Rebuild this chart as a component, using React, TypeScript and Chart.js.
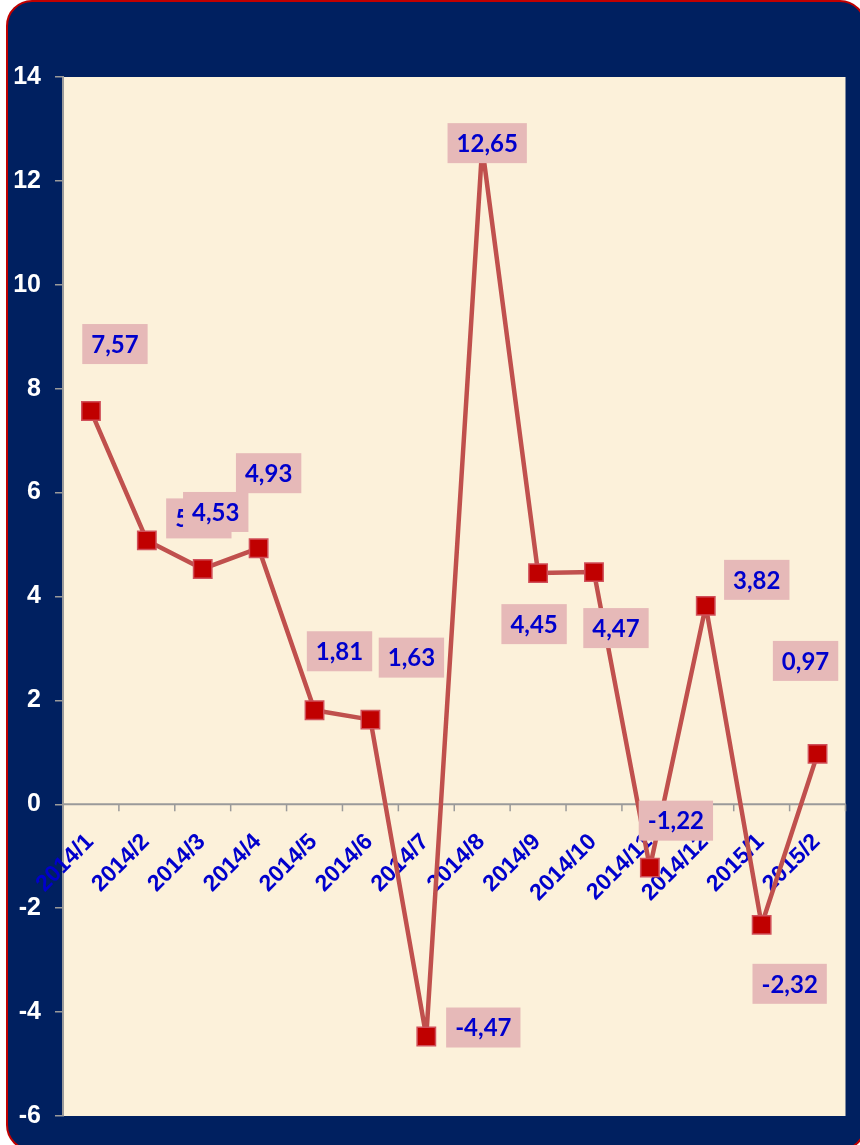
import React, { useEffect, useRef } from "react";
import Chart from "chart.js/auto";

const categories = [
  "2014/1", "2014/2", "2014/3", "2014/4", "2014/5", "2014/6", "2014/7",
  "2014/8", "2014/9", "2014/10", "2014/11", "2014/12", "2015/1", "2015/2",
];
const values = [7.57, 5.08, 4.53, 4.93, 1.81, 1.63, -4.47, 12.65, 4.45, 4.47, -1.22, 3.82, -2.32, 0.97];
const yTicksMin = -6;
const yTicksMax = 14;
const yTicksStep = 2;

// label placement (styling): offset of label box centre from its point, in px
const labelOffsets: [number, number][] = [
  [24, -67], [52, -22], [13, -57], [10, -75], [25, -59], [41, -62], [57, -9],
  [5, -4], [-4, 51], [22, 56], [26, -47], [51, -26], [28, 59], [-12, -93],
];

const NAVY = "#002060";
const CREAM = "#FCF1DA";
const BLUE = "#0000CC";

const fmt = (v: number) => v.toFixed(2).replace(".", ",");

export default function App() {
  const ref = useRef<HTMLCanvasElement | null>(null);
  useEffect(() => {
    document.body.style.margin = "0";
    const canvas = ref.current!;
    const bgPlugin = {
      id: "bg",
      beforeDraw(chart: any) {
        const { ctx, chartArea: a } = chart;
        ctx.save();
        ctx.fillStyle = CREAM;
        ctx.fillRect(a.left, a.top, a.right - a.left, a.bottom - a.top);
        ctx.restore();
      },
      beforeDatasetsDraw(chart: any) {
        const { ctx, chartArea: a } = chart;
        const xs = chart.scales.x;
        const ys = chart.scales.y;
        const zy = ys.getPixelForValue(0);
        ctx.save();
        ctx.strokeStyle = "#9a9a9a";
        ctx.lineWidth = 2;
        ctx.beginPath();
        ctx.moveTo(a.left, zy);
        ctx.lineTo(a.right, zy);
        ctx.stroke();
        ctx.lineWidth = 1.5;
        const w = (a.right - a.left) / categories.length;
        for (let i = 1; i <= categories.length; i++) {
          const x = a.left + w * i;
          ctx.beginPath();
          ctx.moveTo(x, zy);
          ctx.lineTo(x, zy + 7);
          ctx.stroke();
        }
        ctx.fillStyle = BLUE;
        ctx.font = "bold 23px 'Liberation Sans', Arial, sans-serif";
        ctx.textAlign = "right";
        ctx.textBaseline = "middle";
        categories.forEach((c, i) => {
          const x = xs.getPixelForValue(i);
          ctx.save();
          ctx.translate(x - 1, zy + 34);
          ctx.rotate(-Math.PI / 4);
          ctx.fillText(c, 0, 0);
          ctx.restore();
        });
        ctx.restore();
      },
      afterDatasetsDraw(chart: any) {
        const { ctx } = chart;
        const meta = chart.getDatasetMeta(0);
        ctx.save();
        ctx.font = "bold 24px Lato, 'Open Sans', sans-serif";
        ctx.textAlign = "center";
        ctx.textBaseline = "middle";
        values.forEach((v, i) => {
          const p = meta.data[i];
          const [dx, dy] = labelOffsets[i];
          const cx = p.x + dx;
          const cy = p.y + dy;
          const t = fmt(v);
          const tw = ctx.measureText(t).width;
          const bw = tw + 18;
          const bh = 40;
          ctx.fillStyle = "#E6B9B8";
          ctx.fillRect(cx - bw / 2, cy - bh / 2, bw, bh);
          ctx.fillStyle = BLUE;
          ctx.fillText(t, cx, cy + 1);
        });
        ctx.restore();
      },
    };

    const chart = new Chart(canvas, {
      type: "line",
      data: {
        labels: categories,
        datasets: [
          {
            data: values,
            borderColor: "#C0504D",
            borderWidth: 4.5,
            borderJoinStyle: "round",
            borderCapStyle: "round",
            tension: 0,
            pointStyle: "rect",
            pointRadius: 13,
            pointHoverRadius: 13,
            pointBackgroundColor: "#C00000",
            pointBorderColor: "#D0505A",
            pointBorderWidth: 1.5,
          },
        ],
      },
      options: {
        animation: false,
        responsive: false,
        maintainAspectRatio: false,
        layout: { padding: { left: 0, top: 77, right: 12, bottom: 28 } },
        plugins: { legend: { display: false }, tooltip: { enabled: false } },
        scales: {
          x: { type: "category", offset: true, display: false },
          y: {
            min: yTicksMin,
            max: yTicksMax,
            ticks: {
              stepSize: yTicksStep,
              color: "#ffffff",
              font: { family: "'Liberation Sans', Arial, sans-serif", size: 25, weight: "bold" },
              padding: 14,
            },
            grid: {
              drawOnChartArea: false,
              drawTicks: true,
              tickLength: 8,
              color: "#9a9a9a",
              lineWidth: 1.5,
            },
            border: { display: true, color: "#9a9a9a", width: 2 },
            afterFit(scale: any) {
              scale.width = 63;
            },
          },
        },
      },
      plugins: [bgPlugin],
    });
    return () => chart.destroy();
  }, []);

  return (
    <div style={{ position: "relative", width: 860, height: 1145, overflow: "hidden" }}>
      <div
        style={{
          position: "absolute",
          left: 6,
          top: 0,
          width: 860,
          height: 1151,
          boxSizing: "border-box",
          border: "2px solid #C00000",
          borderRadius: 26,
          background: NAVY,
        }}
      />
      <canvas
        ref={ref}
        width={860}
        height={1145}
        style={{ position: "absolute", left: 0, top: 0, width: 860, height: 1145 }}
      />
    </div>
  );
}
